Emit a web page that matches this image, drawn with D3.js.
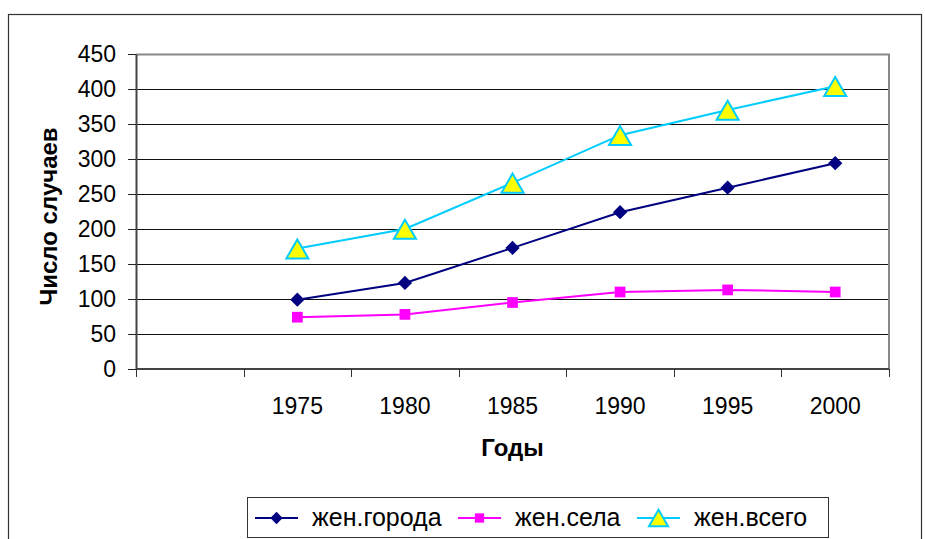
<!DOCTYPE html>
<html>
<head>
<meta charset="utf-8">
<script src="https://cdn.jsdelivr.net/npm/d3@7"></script>
<style>
  body { margin: 0; background: #fff; }
  text { font-family: "Liberation Sans", Arial, sans-serif; fill: #000; }
</style>
</head>
<body>
<div id="chart"></div>
<script>
// Data
const years = ['', '1975', '1980', '1985', '1990', '1995', '2000'];
const dataYears = ['1975', '1980', '1985', '1990', '1995', '2000'];
const cityVals = [99, 123, 173, 224, 259, 294];
const villageVals = [74, 78, 95, 110, 113, 110];
const totalVals = [172, 200, 266, 334, 370, 404];
const yTicks = [0, 50, 100, 150, 200, 250, 300, 350, 400, 450];
const seriesNames = ['жен.города', 'жен.села', 'жен.всего'];

// Layout
const width = 925, height = 539;
const plotLeft = 136, plotRight = 889, plotTop = 54, plotBottom = 369;

const svg = d3.select('#chart').append('svg')
  .attr('width', width)
  .attr('height', height);

// outer frame
svg.append('rect')
  .attr('x', 8.5).attr('y', 14.5)
  .attr('width', 913).attr('height', 540)
  .attr('fill', 'none')
  .attr('stroke', '#333')
  .attr('stroke-width', 1.2);

const x = d3.scaleBand().domain(years).range([plotLeft, plotRight]);
const y = d3.scaleLinear().domain([0, 450]).range([plotBottom, plotTop]);

// gridlines
svg.append('g')
  .selectAll('line')
  .data(yTicks.filter(d => d > 0 && d < 450))
  .enter().append('line')
  .attr('x1', plotLeft).attr('x2', plotRight)
  .attr('y1', d => Math.round(y(d)) + 0.5)
  .attr('y2', d => Math.round(y(d)) + 0.5)
  .attr('stroke', '#111')
  .attr('stroke-width', 1);

// plot area border (top + right)
svg.append('path')
  .attr('d', `M${plotLeft},${plotTop + 0.5}H${plotRight}V${plotBottom}`)
  .attr('fill', 'none')
  .attr('stroke', '#888')
  .attr('stroke-width', 2);

// y axis
const yAxis = d3.axisLeft(y).tickValues(yTicks).tickSize(8).tickSizeOuter(0).tickPadding(12);
const gy = svg.append('g')
  .attr('transform', `translate(${plotLeft},0)`)
  .call(yAxis);
gy.select('.domain').attr('stroke', '#444').attr('stroke-width', 2);
gy.selectAll('.tick line').attr('stroke', '#222');
gy.selectAll('text')
  .style('font-size', '23px')
  .style('font-family', '"Liberation Sans", Arial, sans-serif');

// x axis: ticks at category boundaries
const gx = svg.append('g')
  .attr('transform', `translate(0,${plotBottom})`);
gx.append('line')
  .attr('x1', plotLeft).attr('x2', plotRight)
  .attr('y1', 0).attr('y2', 0)
  .attr('stroke', '#444').attr('stroke-width', 2);
const bounds = years.map(d => x(d)).concat([plotRight]);
gx.selectAll('.xt')
  .data(bounds)
  .enter().append('line')
  .attr('class', 'xt')
  .attr('x1', d => Math.round(d) + 0.5).attr('x2', d => Math.round(d) + 0.5)
  .attr('y1', 0).attr('y2', 8)
  .attr('stroke', '#333');
gx.selectAll('.xl')
  .data(years)
  .enter().append('text')
  .attr('class', 'xl')
  .attr('x', d => x(d) + x.bandwidth() / 2)
  .attr('y', 45)
  .attr('text-anchor', 'middle')
  .style('font-size', '23px')
  .text(d => d);

// axis titles
svg.append('text')
  .attr('transform', `translate(57,${(plotTop + plotBottom) / 2 + 5}) rotate(-90)`)
  .attr('text-anchor', 'middle')
  .style('font-size', '24px')
  .style('font-weight', 'bold')
  .text('Число случаев');

svg.append('text')
  .attr('x', (plotLeft + plotRight) / 2)
  .attr('y', 456)
  .attr('text-anchor', 'middle')
  .style('font-size', '24px')
  .style('font-weight', 'bold')
  .text('Годы');

const cx = d => x(d) + x.bandwidth() / 2;
const line = d3.line().x(d => cx(d[0])).y(d => y(d[1]));

const series = [
  { name: seriesNames[0], vals: cityVals, color: '#000080', sym: d3.symbolDiamond2, size: 130, fill: '#000080', stroke: 'none', dy: 0 },
  { name: seriesNames[1], vals: villageVals, color: '#ff00ff', sym: d3.symbolSquare, size: 115, fill: '#ff00ff', stroke: 'none', dy: 0 },
  { name: seriesNames[2], vals: totalVals, color: '#00ccff', sym: d3.symbolTriangle, size: 210, fill: '#ffff00', stroke: '#00ccff', dy: 3.5 }
];

series.forEach(s => {
  const pts = dataYears.map((yr, i) => [yr, s.vals[i]]);
  svg.append('path')
    .datum(pts)
    .attr('d', line)
    .attr('fill', 'none')
    .attr('stroke', s.color)
    .attr('stroke-width', 2);
  svg.append('g')
    .selectAll('path')
    .data(pts)
    .enter().append('path')
    .attr('d', d3.symbol().type(s.sym).size(s.size))
    .attr('transform', d => `translate(${cx(d[0])},${y(d[1]) + s.dy})`)
    .attr('fill', s.fill)
    .attr('stroke', s.stroke)
    .attr('stroke-width', 2);
});

// legend
const lg = svg.append('g');
lg.append('rect')
  .attr('x', 247.5).attr('y', 497.5)
  .attr('width', 581).attr('height', 40)
  .attr('fill', '#fff')
  .attr('stroke', '#333')
  .attr('stroke-width', 1);

const legendX = [255, 458, 637];
series.forEach((s, i) => {
  const lx = legendX[i], ly = 518;
  lg.append('line')
    .attr('x1', lx).attr('x2', lx + 43)
    .attr('y1', ly).attr('y2', ly)
    .attr('stroke', s.color).attr('stroke-width', 2);
  lg.append('path')
    .attr('d', d3.symbol().type(s.sym).size(s.size * 0.75))
    .attr('transform', `translate(${lx + 21.5},${ly + s.dy * 0.8})`)
    .attr('fill', s.fill)
    .attr('stroke', s.stroke)
    .attr('stroke-width', 2);
  lg.append('text')
    .attr('x', lx + 57)
    .attr('y', ly + 8)
    .style('font-size', '25px')
    .text(s.name);
});
</script>
</body>
</html>
